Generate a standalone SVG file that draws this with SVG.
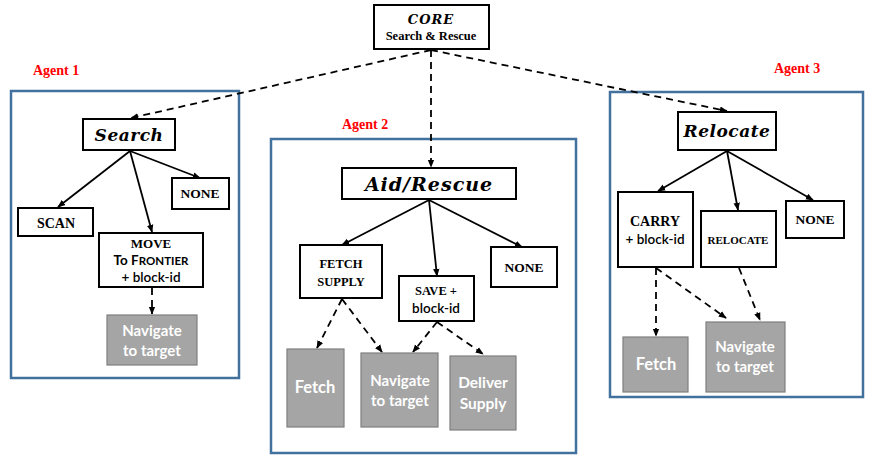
<svg xmlns="http://www.w3.org/2000/svg" width="870" height="460" viewBox="0 0 870 460">
<style>
.frame{fill:none;stroke:#41719C;stroke-width:2.5}
.box{fill:#fff;stroke:#000;stroke-width:2}
.gbox{fill:#A5A5A5;stroke:#7F7F7F;stroke-width:1.2}
.agent{font-family:"Liberation Serif",serif;font-weight:bold;font-size:14px;fill:#FF0000}
.math{font-family:"DejaVu Serif",serif;font-style:italic;font-weight:bold;fill:#000;text-anchor:middle}
.lbl{font-family:"Liberation Serif",serif;font-weight:bold;fill:#000;text-anchor:middle}
.sans{font-family:Lato,"Liberation Sans",sans-serif;fill:#000;text-anchor:middle}
.wt{font-family:Lato,"Liberation Sans",sans-serif;font-weight:bold;fill:#fff;text-anchor:middle}
.solid{fill:none;stroke:#000;stroke-width:1.8;marker-end:url(#ah)}
.dash{fill:none;stroke:#000;stroke-width:1.8;stroke-dasharray:7 5;marker-end:url(#ah)}
</style>
<defs>
<marker id="ah" viewBox="0 0 10 10" refX="9" refY="5" markerWidth="8" markerHeight="8" markerUnits="userSpaceOnUse" orient="auto">
<path d="M0,1 L10,5 L0,9 z" fill="#000"/>
</marker>
</defs>
<rect width="870" height="460" fill="#fff"/>

<g id="frames">
<rect class="frame" x="11" y="91" width="228" height="287"/>
<rect class="frame" x="271" y="139" width="305" height="314"/>
<rect class="frame" x="610" y="92" width="253" height="305"/>
<text class="agent" x="33" y="75">Agent 1</text>
<text class="agent" x="342" y="129">Agent 2</text>
<text class="agent" x="774" y="73">Agent 3</text>
</g>

<g id="connectors">
<line class="dash" x1="431" y1="50" x2="131" y2="118"/>
<line class="dash" x1="431" y1="50" x2="431" y2="167"/>
<line class="dash" x1="431" y1="50" x2="727" y2="111"/>
<line class="solid" x1="130" y1="151" x2="58" y2="207"/>
<line class="solid" x1="130" y1="151" x2="152" y2="232"/>
<line class="solid" x1="130" y1="151" x2="200" y2="178"/>
<line class="dash" x1="152" y1="288" x2="152" y2="314"/>
<line class="solid" x1="429" y1="200" x2="342" y2="245"/>
<line class="solid" x1="429" y1="200" x2="437" y2="276"/>
<line class="solid" x1="429" y1="200" x2="522" y2="247"/>
<line class="dash" x1="342" y1="299" x2="317" y2="348"/>
<line class="dash" x1="342" y1="299" x2="382" y2="352"/>
<line class="dash" x1="437" y1="322" x2="413" y2="352"/>
<line class="dash" x1="437" y1="322" x2="483" y2="354"/>
<line class="solid" x1="727" y1="151" x2="658" y2="191"/>
<line class="solid" x1="727" y1="151" x2="738" y2="210"/>
<line class="solid" x1="727" y1="151" x2="813" y2="200"/>
<line class="dash" x1="656" y1="268" x2="656" y2="336"/>
<line class="dash" x1="656" y1="268" x2="726" y2="318"/>
<line class="dash" x1="739" y1="268" x2="760" y2="320"/>
</g>

<g id="core">
<rect class="box" x="374" y="5" width="115" height="44" stroke-width="1.3"/>
<text class="math" x="431" y="24" font-size="13" letter-spacing="1">CORE</text>
<text class="lbl" x="431" y="40" font-size="12.5">Search &amp; Rescue</text>
</g>

<g id="search">
<rect class="box" x="83" y="119" width="92" height="31"/>
<text class="math" x="129" y="141" font-size="17" letter-spacing="0.5">Search</text>
</g>
<g id="none1">
<rect class="box" x="172" y="178" width="57" height="31"/>
<text class="lbl" x="200" y="198" font-size="13.5">NONE</text>
</g>
<g id="scan">
<rect class="box" x="18" y="208" width="75" height="28"/>
<text class="lbl" x="56" y="228" font-size="14">SCAN</text>
</g>
<g id="move">
<rect class="box" x="99" y="233" width="104" height="54"/>
<text class="lbl" x="151" y="248" font-size="13">MOVE</text>
<text class="sans" x="151" y="265" font-size="13.5" font-weight="bold">To F<tspan font-size="11.5">RONTIER</tspan></text>
<text class="sans" x="151" y="282" font-size="13.5" font-weight="600">+ block-id</text>
</g>
<g id="nav1">
<rect class="gbox" x="107" y="315" width="90" height="50"/>
<text class="wt" x="152" y="336" font-size="15">Navigate</text>
<text class="wt" x="152" y="356" font-size="15">to target</text>
</g>

<g id="aid">
<rect class="box" x="342" y="168" width="174" height="31"/>
<text class="math" x="429" y="191" font-size="19" letter-spacing="1">Aid/Rescue</text>
</g>
<g id="fetchsupply">
<rect class="box" x="300" y="245" width="82" height="53"/>
<text class="lbl" x="341" y="268" font-size="12.5">FETCH</text>
<text class="lbl" x="341" y="286" font-size="12.5">SUPPLY</text>
</g>
<g id="save">
<rect class="box" x="399" y="276" width="75" height="45"/>
<text class="lbl" x="436" y="295" font-size="12.5">SAVE +</text>
<text class="sans" x="436" y="313" font-size="13.5" font-weight="600">block-id</text>
</g>
<g id="none2">
<rect class="box" x="491" y="247" width="66" height="40"/>
<text class="lbl" x="524" y="272" font-size="13.5">NONE</text>
</g>
<g id="fetch2">
<rect class="gbox" x="287" y="349" width="57" height="78"/>
<text class="wt" x="315" y="393" font-size="16.5">Fetch</text>
</g>
<g id="nav2">
<rect class="gbox" x="361" y="353" width="77" height="74"/>
<text class="wt" x="400" y="386" font-size="15">Navigate</text>
<text class="wt" x="400" y="406" font-size="15">to target</text>
</g>
<g id="deliver">
<rect class="gbox" x="450" y="356" width="66" height="74"/>
<text class="wt" x="483" y="388" font-size="15.5">Deliver</text>
<text class="wt" x="483" y="409" font-size="15.5">Supply</text>
</g>

<g id="relocate">
<rect class="box" x="678" y="112" width="98" height="38"/>
<text class="math" x="727" y="137" font-size="17" letter-spacing="0.5">Relocate</text>
</g>
<g id="carry">
<rect class="box" x="618" y="192" width="75" height="75"/>
<text class="lbl" x="655" y="226" font-size="14">CARRY</text>
<text class="sans" x="655" y="244" font-size="13.5" font-weight="600">+ block-id</text>
</g>
<g id="relocate2">
<rect class="box" x="701" y="211" width="75" height="56"/>
<text class="lbl" x="738" y="244" font-size="11">RELOCATE</text>
</g>
<g id="none3">
<rect class="box" x="786" y="201" width="58" height="37"/>
<text class="lbl" x="815" y="224" font-size="13.5">NONE</text>
</g>
<g id="fetch3">
<rect class="gbox" x="623" y="337" width="65" height="55"/>
<text class="wt" x="656" y="370" font-size="16.5">Fetch</text>
</g>
<g id="nav3">
<rect class="gbox" x="706" y="322" width="79" height="70"/>
<text class="wt" x="745" y="352" font-size="15">Navigate</text>
<text class="wt" x="745" y="372" font-size="15">to target</text>
</g>
</svg>
